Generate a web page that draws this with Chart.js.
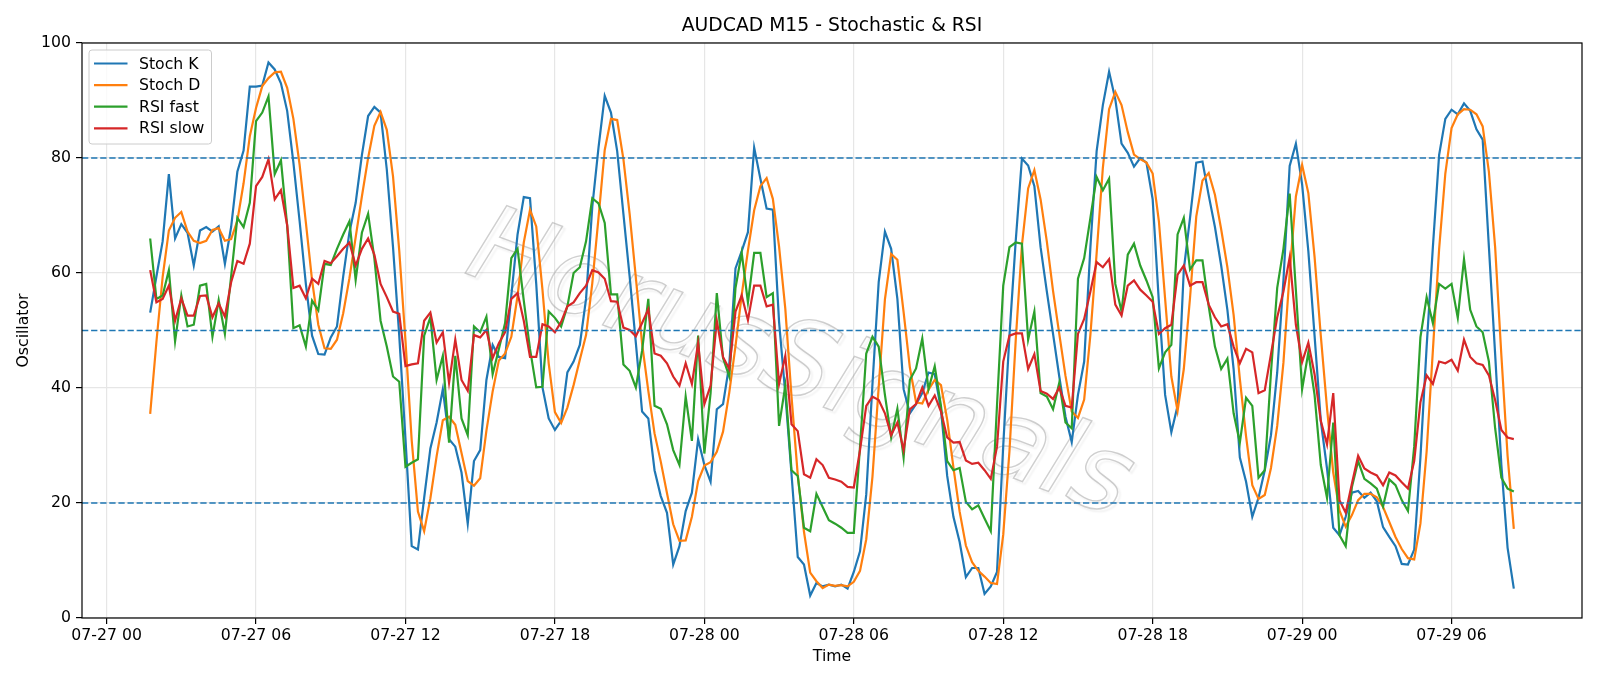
<!DOCTYPE html>
<html>
<head>
<meta charset="utf-8">
<title>AUDCAD M15 - Stochastic & RSI</title>
<script src="https://cdn.jsdelivr.net/npm/chart.js@4.4.1/dist/chart.umd.min.js"></script>
<style>
  html, body { margin: 0; padding: 0; background: #fff; }
  #wrap { width: 1600px; height: 686px; }
</style>
</head>
<body>
<div id="wrap"><canvas id="chart" width="1600" height="686"></canvas></div>
<script>
(function() {
  'use strict';

  // 15-minute bars, first bar at 07-27 01:45 (hours counted from 07-27 00:00)
  const START_HOUR = 1.75;
  const STEP_HOURS = 0.25;

  const X_TICK_HOURS = [0, 6, 12, 18, 24, 30, 36, 42, 48, 54];
  const X_TICK_LABELS = ['07-27 00', '07-27 06', '07-27 12', '07-27 18', '07-28 00',
    '07-28 06', '07-28 12', '07-28 18', '07-29 00', '07-29 06'];
  const Y_TICKS = [0, 20, 40, 60, 80, 100];
  const LEVELS = [80, 50, 20];

  const stochK = [
    53.1, 59.4, 65.5, 77.2, 66, 68.5, 67, 61.3, 67.4, 68,
    67.2, 68.1, 61.6, 68, 77.6, 81.3, 92.4, 92.4, 92.6, 96.6,
    95.4, 93, 88.2, 79.2, 69, 58.1, 49.1, 45.9, 45.8, 48.8,
    50.7, 59.4, 67.1, 72.2, 80.5, 87.3, 88.9, 87.9, 78, 64.5,
    49.1, 31.1, 12.5, 11.9, 20.9, 29.5, 34, 39.8, 31.1, 29.8,
    25.3, 16.4, 27.3, 29.2, 41.4, 47.5, 45.4, 45.2, 56.1, 66.7,
    73.2, 73, 58.1, 40.1, 34.7, 32.7, 34.3, 42.7, 44.6, 47.5,
    55.5, 71.5, 81.8, 90.8, 87.9, 81.2, 70.3, 59.4, 47.8, 35.9,
    34.7, 25.7, 21.2, 18.3, 9.3, 12.5, 18.6, 21.8, 31.1, 26.6,
    23.7, 36.3, 37.2, 44, 60.8, 63.8, 67.1, 81.8, 76.4, 71.2,
    71, 51.5, 39, 25, 10.6, 9.3, 3.9, 6.1, 5.5, 5.8,
    5.5, 5.8, 5.1, 8, 11.6, 21.5, 40.7, 58.4, 67.2, 64.2,
    55.5, 39.8, 35.6, 37.2, 39.1, 42.7, 42.4, 36.3, 24.7, 17.6,
    13.2, 7.1, 8.7, 8.7, 4.2, 5.5, 8, 30, 49.1, 65.5,
    79.9, 78.7, 75.1, 64.5, 56.8, 49.4, 42, 35, 30.6, 38.8,
    44.6, 64.5, 81.2, 89.2, 95, 90.2, 82.5, 80.9, 78.5, 80,
    79.2, 72.8, 54.9, 38.8, 32.3, 36.9, 60.6, 69.6, 79.2, 79.4,
    73.5, 68, 61.3, 53.6, 43.3, 27.9, 23.7, 17.6, 20.9, 25.7,
    31.8, 42.7, 58.7, 78.6, 82.5, 75.4, 63.8, 49.1, 34.3, 26,
    15.7, 14.4, 17.6, 21.8, 22.1, 20.9, 21.8, 20.3, 15.8, 14.1,
    12.5, 9.4, 9.3, 11.9, 27.9, 47.2, 64.5, 80.5, 86.8, 88.4,
    87.6, 89.5, 88.2, 85, 83.2, 64.5, 45.9, 26.6, 12.2, 5.1
  ];

  const stochD = [
    35.5, 48, 59.3, 67.4, 69.6, 70.6, 67.2, 65.6, 65.2, 65.6,
    67.5, 67.8, 65.6, 65.9, 69.1, 75.6, 83.8, 88.7, 92.5, 93.9,
    94.9, 95, 92.2, 86.8, 78.8, 68.8, 58.7, 51, 46.9, 46.8,
    48.4, 53, 59.1, 66.2, 73.3, 80, 85.6, 88, 84.9, 76.8,
    63.9, 48.2, 30.9, 18.5, 15.1, 20.8, 28.1, 34.4, 35, 33.6,
    28.7, 23.8, 23, 24.3, 32.6, 39.4, 44.8, 46, 48.9, 56,
    65.3, 71, 68.1, 57.1, 44.3, 35.8, 33.9, 36.6, 40.5, 44.9,
    49.2, 58.2, 69.6, 81.4, 86.8, 86.6, 79.8, 70.3, 59.2, 47.7,
    39.5, 32.1, 27.2, 21.7, 16.3, 13.4, 13.5, 17.6, 23.8, 26.5,
    27.1, 28.9, 32.4, 39.2, 47.3, 56.2, 63.9, 70.9, 75.1, 76.5,
    72.9, 64.6, 53.8, 38.5, 24.9, 15, 7.9, 6.4, 5.2, 5.8,
    5.6, 5.7, 5.5, 6.3, 8.2, 13.7, 24.6, 40.2, 55.4, 63.3,
    62.3, 53.2, 43.6, 37.5, 37.3, 39.7, 41.4, 40.5, 34.5, 26.2,
    18.5, 12.6, 9.7, 8.2, 7.2, 6.1, 5.9, 14.5, 29, 48.2,
    64.8, 74.7, 77.9, 72.8, 65.5, 56.9, 49.4, 42.1, 35.9, 34.8,
    38, 49.3, 63.4, 78.3, 88.5, 91.5, 89.2, 84.5, 80.6, 79.8,
    79.2, 77.3, 69, 55.5, 42, 36, 43.3, 55.7, 69.8, 76.1,
    77.4, 73.6, 67.6, 61, 52.7, 41.6, 31.6, 23.1, 20.7, 21.4,
    26.1, 33.4, 44.4, 60, 73.3, 78.8, 73.9, 62.8, 49.1, 36.5,
    25.3, 18.7, 15.9, 17.9, 20.5, 21.6, 21.6, 21, 19.3, 16.7,
    14.1, 12, 10.4, 10.2, 16.4, 29, 46.5, 64.1, 77.3, 85.2,
    87.6, 88.5, 88.4, 87.6, 85.5, 77.6, 64.5, 45.7, 28.2, 15.5
  ];

  const rsiFast = [
    66, 55.5, 56.1, 60.5, 48.1, 56.1, 50.7, 51, 57.8, 58.1,
    48.9, 55.3, 49.4, 59.4, 69.6, 68, 72.2, 86.4, 87.9, 90.7,
    77.2, 79.6, 68.3, 50.4, 50.9, 47.2, 55.2, 53.5, 61.6, 61.4,
    64.2, 66.7, 69, 58.8, 67, 70.3, 62.6, 51.7, 47.2, 42,
    41.1, 26.3, 27, 27.6, 49.1, 52.3, 41.4, 45.6, 30.5, 45.6,
    34.7, 31.8, 50.7, 49.7, 52.4, 42.4, 46.8, 51.3, 62.6, 64.2,
    55.2, 46.8, 40.1, 40.2, 53.3, 52.2, 50.7, 54.2, 60, 61,
    65.5, 73, 72.1, 68.7, 56.3, 56.3, 44.1, 43, 40.1, 46.5,
    55.5, 36.9, 36.4, 33.7, 29.2, 26.6, 38.5, 30.8, 49.1, 28.6,
    39.1, 56.5, 45.2, 42, 57.4, 63.5, 54.9, 63.5, 63.5, 55.8,
    56.5, 33.4, 40.4, 25.7, 24.7, 15.7, 15.1, 21.6, 19.3, 17,
    16.4, 15.7, 14.8, 14.8, 29.8, 46, 48.9, 47.2, 38.8, 31.4,
    36.4, 27.9, 41.4, 43.4, 48.6, 39.8, 43.8, 36.9, 27.3, 25.7,
    26.1, 20.2, 18.9, 19.6, 17.3, 15.1, 37, 57.8, 64.5, 65.3,
    65.1, 48.4, 53.3, 39.1, 38.5, 36.3, 40.9, 34, 33, 59,
    62.6, 69.6, 76.7, 74.4, 76.4, 58.1, 53.3, 63.2, 65.1, 61.3,
    58.7, 55.8, 43.4, 46.2, 47.5, 66.7, 69.6, 60.6, 62.2, 62.2,
    54.2, 47.2, 43.3, 45.1, 35.6, 30.5, 38.3, 36.9, 24.4, 25.7,
    42.7, 57.4, 64.2, 73.8, 57, 39.8, 46.2, 38.8, 26.6, 20.9,
    34, 14.4, 12.5, 22.8, 27.3, 24.2, 23.4, 22.5, 19.4, 24.1,
    23.1, 20.5, 18.6, 29.8, 48.8, 55.8, 51.3, 58.1, 57.3, 58.1,
    52.2, 62.4, 53.6, 50.7, 49.7, 44.6, 33, 24.4, 22.5, 22
  ];

  const rsiSlow = [
    60.5, 54.9, 55.5, 57.8, 51.7, 55.6, 52.6, 52.6, 56, 56.1,
    52.3, 54.7, 52.4, 58.4, 62.1, 61.6, 65.1, 75.1, 76.7, 79.8,
    72.8, 74.4, 68.3, 57.4, 57.8, 55.6, 59, 58.1, 62.1, 61.7,
    62.9, 64.2, 65.3, 61.3, 64.2, 66, 63.2, 58.1, 55.8, 53.3,
    52.9, 43.8, 44.1, 44.3, 51.7, 53.1, 47.9, 49.7, 40.9, 48.4,
    41.4, 39.5, 49.2, 48.8, 50.1, 45.2, 47.8, 49.7, 55.5, 56.5,
    51.7, 45.4, 45.4, 51.1, 50.7, 49.7, 51.5, 54.2, 54.9, 56.5,
    57.8, 60.5, 60.1, 59, 55.1, 55, 50.5, 50.1, 49, 51.3,
    53.7, 46, 45.6, 44.3, 42, 40.4, 44.3, 40.7, 47.8, 37.2,
    40.4, 51.7, 45.4, 43.3, 53.3, 56.1, 51.8, 57.8, 57.8, 54.2,
    54.5, 40.7, 45.6, 33.7, 32.5, 25, 24.4, 27.6, 26.6, 24.4,
    24.1, 23.7, 22.8, 22.7, 29.2, 36.9, 38.5, 37.9, 35.6, 31.8,
    34, 29.2, 36.3, 37.2, 40.1, 36.9, 38.7, 35.9, 31.4, 30.5,
    30.6, 27.4, 26.8, 27, 25.7, 24.2, 29.8, 44.6, 49.1, 49.5,
    49.5, 43.3, 45.9, 39.5, 39, 38.1, 40.1, 36.9, 36.6, 49.4,
    52, 56.8, 61.9, 61, 62.4, 54.5, 52.6, 57.8, 58.7, 57.1,
    56.1, 55, 49.4, 50.4, 51, 59.7, 61.3, 57.8, 58.4, 58.4,
    54.5, 52.3, 50.7, 51.1, 47.2, 44.3, 46.8, 46.2, 39.1, 39.6,
    45.9, 52.3, 56.8, 62.7, 51, 44.5, 47.9, 42.4, 34.3, 30.2,
    39.1, 20.5, 18.3, 23.4, 28.2, 26, 25.3, 24.8, 23.1, 25.3,
    24.8, 23.6, 22.5, 27.3, 37.5, 42.2, 40.7, 44.6, 44.3, 44.9,
    43, 48.4, 45.4, 44.3, 44, 42.2, 37.9, 32.7, 31.4, 31.1
  ];

  const FONT = 'DejaVu Sans';
  const TICK_FONT = { family: FONT, size: 15.7 };
  const GRID_COLOR = '#e6e6e6';

  Chart.defaults.font.family = FONT;
  Chart.defaults.color = '#000';

  function toPoints(values) {
    return values.map((v, i) => ({ x: START_HOUR + i * STEP_HOURS, y: v }));
  }

  // matplotlib style 5% margins on x
  const lastHour = START_HOUR + (stochK.length - 1) * STEP_HOURS;
  const span = lastHour - START_HOUR;
  const xMin = START_HOUR - span * 0.05;
  const xMax = lastHour + span * 0.05;

  /**
   * Title, watermark, level lines, frame and legend
   */
  const extras = {
    id: 'extras',
    beforeDatasetsDraw(chart) {
      const { ctx, chartArea: a } = chart;
      ctx.save();
      ctx.translate(a.left + a.width * 0.478, a.top + a.height * 0.566);
      ctx.rotate(20.5 * Math.PI / 180);
      ctx.font = 'italic 107px "' + FONT + '"';
      ctx.textAlign = 'center';
      ctx.textBaseline = 'middle';
      ctx.shadowColor = 'rgba(0, 0, 0, 0.13)';
      ctx.shadowOffsetX = 2.5;
      ctx.shadowOffsetY = 2.5;
      ctx.shadowBlur = 2;
      ctx.lineWidth = 1.4;
      ctx.strokeStyle = 'rgba(160, 160, 160, 0.5)';
      ctx.strokeText('HorusSignals', 0, 0);
      ctx.restore();
    },
    afterDatasetsDraw(chart) {
      const { ctx, chartArea: a, scales: { y } } = chart;
      ctx.save();
      ctx.strokeStyle = '#1f77b4';
      ctx.lineWidth = 1.5;
      ctx.setLineDash([6.3, 2.8]);
      LEVELS.forEach(level => {
        const py = y.getPixelForValue(level);
        ctx.beginPath();
        ctx.moveTo(a.left, py);
        ctx.lineTo(a.right, py);
        ctx.stroke();
      });
      ctx.restore();
    },
    afterDraw(chart) {
      const { ctx, chartArea: a } = chart;
      ctx.save();

      // frame
      ctx.strokeStyle = '#000';
      ctx.lineWidth = 1.2;
      ctx.strokeRect(a.left, a.top, a.right - a.left, a.bottom - a.top);

      // title
      ctx.fillStyle = '#000';
      ctx.font = '18.8px "' + FONT + '"';
      ctx.textAlign = 'center';
      ctx.textBaseline = 'middle';
      ctx.fillText('AUDCAD M15 - Stochastic & RSI', (a.left + a.right) / 2, a.top / 2 + 5);

      // legend
      const bx = a.left + 7, by = a.top + 7, bw = 122.5, bh = 94;
      ctx.beginPath();
      ctx.roundRect(bx, by, bw, bh, 3);
      ctx.fillStyle = 'rgba(255, 255, 255, 0.8)';
      ctx.fill();
      ctx.strokeStyle = '#cccccc';
      ctx.lineWidth = 1;
      ctx.stroke();

      ctx.font = '15.7px "' + FONT + '"';
      ctx.textAlign = 'left';
      chart.data.datasets.forEach((ds, i) => {
        const ry = by + 13.5 + i * 21.6;
        ctx.strokeStyle = ds.borderColor;
        ctx.lineWidth = 2.2;
        ctx.beginPath();
        ctx.moveTo(bx + 5, ry);
        ctx.lineTo(bx + 38.5, ry);
        ctx.stroke();
        ctx.fillStyle = '#000';
        ctx.fillText(ds.label, bx + 50, ry + 1);
      });
      ctx.restore();
    }
  };

  function lineSet(label, values, color, order) {
    return {
      label: label,
      data: toPoints(values),
      borderColor: color,
      backgroundColor: color,
      borderWidth: 2.2,
      pointRadius: 0,
      tension: 0,
      fill: false,
      order: order
    };
  }

  new Chart(document.getElementById('chart'), {
    type: 'line',
    data: {
      datasets: [
        lineSet('Stoch K', stochK, '#1f77b4', 4),
        lineSet('Stoch D', stochD, '#ff7f0e', 3),
        lineSet('RSI fast', rsiFast, '#2ca02c', 2),
        lineSet('RSI slow', rsiSlow, '#d62728', 1)
      ]
    },
    options: {
      responsive: false,
      animation: false,
      events: [],
      layout: { padding: { left: 0, right: 18, top: 43, bottom: 0 } },
      plugins: {
        legend: { display: false },
        tooltip: { enabled: false },
        title: { display: false }
      },
      scales: {
        x: {
          type: 'linear',
          min: xMin,
          max: xMax,
          afterFit: s => { s.height = 68; },
          afterBuildTicks: s => { s.ticks = X_TICK_HOURS.map(v => ({ value: v })); },
          ticks: {
            autoSkip: false,
            maxRotation: 0,
            padding: 3,
            color: '#000',
            font: TICK_FONT,
            callback: v => X_TICK_LABELS[X_TICK_HOURS.indexOf(v)] || ''
          },
          grid: { color: GRID_COLOR, lineWidth: 1.2, tickColor: '#000', tickLength: 6, tickWidth: 1.2 },
          border: { display: false },
          title: { display: true, text: 'Time', color: '#000', font: TICK_FONT, padding: { top: 0, bottom: 19.5 } }
        },
        y: {
          min: 0,
          max: 100,
          afterFit: s => { s.width = 82; },
          afterBuildTicks: s => { s.ticks = Y_TICKS.map(v => ({ value: v })); },
          ticks: { padding: 5, color: '#000', font: TICK_FONT },
          grid: { color: GRID_COLOR, lineWidth: 1.2, tickColor: '#000', tickLength: 6, tickWidth: 1.2 },
          border: { display: false },
          title: { display: true, text: 'Oscillator', color: '#000', font: TICK_FONT, padding: { top: 15, bottom: 0 } }
        }
      }
    },
    plugins: [extras]
  });
})();
</script>
</body>
</html>
